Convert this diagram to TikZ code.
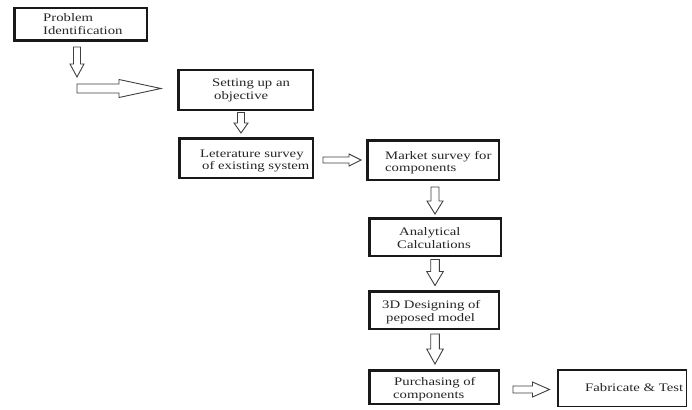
\documentclass[tikz,border=0pt]{standalone}
\usepackage{fontspec}
\setmainfont{Liberation Serif}[FakeStretch=1.28]
\usetikzlibrary{calc}
\tikzset{
  box/.style={draw=black!90, line width=2.5pt, inner sep=0pt},
  thinbox/.style={draw=black!90, line width=1.5pt, inner sep=0pt},
  txt/.style={anchor=base west, inner sep=0pt, text=black!85, font=\fontsize{11.5}{12}\selectfont},
  harrow/.style={draw=black!75, line width=0.9pt, line join=miter, fill=white}
}
% down block arrow: start, tip, shaft half, head half, head length
\newcommand\DArrow[5]{\draw[harrow] let \p1=#1, \p2=#2 in
  (\x2-#3,\y1) -- (\x2+#3,\y1) -- (\x2+#3,\y2+#5) -- (\x2+#4,\y2+#5) -- (\x2,\y2)
  -- (\x2-#4,\y2+#5) -- (\x2-#3,\y2+#5) -- cycle;}
% right block arrow: start, tip, shaft half, head half, head length
\newcommand\RArrow[5]{\draw[harrow] let \p1=#1, \p2=#2 in
  (\x1,\y2+#3) -- (\x2-#5,\y2+#3) -- (\x2-#5,\y2+#4) -- (\x2,\y2)
  -- (\x2-#5,\y2-#4) -- (\x2-#5,\y2-#3) -- (\x1,\y2-#3) -- cycle;}
\begin{document}
\begin{tikzpicture}[x=1pt,y=-1pt]
\useasboundingbox[fill=white] (0,0) rectangle (692,409);

% boxes
\node[box, minimum width=132.5pt, minimum height=32.5pt] (b1) at (80.5,24.5) {};
\node[box, minimum width=134.5pt, minimum height=39.5pt] (b2) at (245.5,90) {};
\node[box, minimum width=133.5pt, minimum height=39.5pt] (b3) at (246,158) {};
\node[box, minimum width=131.5pt, minimum height=39.5pt] (b4) at (433,160) {};
\node[box, minimum width=131.5pt, minimum height=37.5pt] (b5) at (435,237) {};
\node[box, minimum width=129.5pt, minimum height=37.5pt] (b6) at (434,310) {};
\node[box, minimum width=129.5pt, minimum height=33.5pt] (b7) at (434,387) {};
\node[thinbox, minimum width=128.5pt, minimum height=36.5pt] (b8) at (622,388) {};

% texts
\node[txt] (t1a) at (43,22) {Problem};
\node[txt] (t1b) at (43,35) {Identification};
\node[txt] (t2a) at (212,86.5) {Setting up an};
\node[txt] (t2b) at (214,99.5) {objective};
\node[txt] (t3a) at (200,157) {Leterature survey};
\node[txt] (t3b) at (202,169) {of existing system};
\node[txt] (t4a) at (385,159) {Market survey for};
\node[txt] (t4b) at (385,171) {components};
\node[txt] (t5a) at (399,235) {Analytical};
\node[txt] (t5b) at (397,248) {Calculations};
\node[txt] (t6a) at (382,308) {3D Designing of};
\node[txt] (t6b) at (386,321) {peposed model};
\node[txt] (t7a) at (394,385) {Purchasing of};
\node[txt] (t7b) at (393,398) {components};
\node[txt] (t8) at (585,391) {Fabricate \& Test};

% arrow end points
\coordinate (a1s) at ([xshift=-3.5pt,yshift=-5pt]b1.south);
\coordinate (a1e) at ([yshift=-30pt]a1s);
\coordinate (a2e) at ([xshift=-16pt,yshift=1.5pt]b2.west);
\coordinate (a2s) at (a1e |- a2e);
\coordinate (a3s) at ([xshift=-4.5pt,yshift=-1.5pt]b2.south);
\coordinate (a3e) at ([xshift=-5pt,yshift=4pt]b3.north);
\coordinate (a4s) at ([xshift=9pt]b3.east);
\coordinate (a4e) at ([xshift=-5pt]b4.west);
\coordinate (a5s) at ([yshift=-6pt]b4.south);
\coordinate (a5e) at ([yshift=3pt]b5.north);
\coordinate (a6s) at ([yshift=-2.5pt]b5.south);
\coordinate (a6e) at ([xshift=1pt,yshift=4.5pt]b6.north);
\coordinate (a7s) at ([xshift=1pt,yshift=-4pt]b6.south);
\coordinate (a7e) at ([xshift=1pt,yshift=5pt]b7.north);
\coordinate (a8s) at ([xshift=13pt]b7.east);
\coordinate (a8e) at ([xshift=-7.5pt,yshift=-1.5pt]b8.west);

% block arrows
\DArrow{(a1s)}{(a1e)}{3.5pt}{7pt}{13pt}
\RArrow{(a2s)}{(a2e)}{4.5pt}{9pt}{42pt}
\DArrow{(a3s)}{(a3e)}{3.5pt}{7pt}{10pt}
\RArrow{(a4s)}{(a4e)}{3pt}{6pt}{12pt}
\DArrow{(a5s)}{(a5e)}{4pt}{8pt}{13pt}
\DArrow{(a6s)}{(a6e)}{4.3pt}{8.3pt}{14pt}
\DArrow{(a7s)}{(a7e)}{4.3pt}{8.3pt}{15pt}
\RArrow{(a8s)}{(a8e)}{3.5pt}{7.5pt}{17pt}
\end{tikzpicture}
\end{document}
